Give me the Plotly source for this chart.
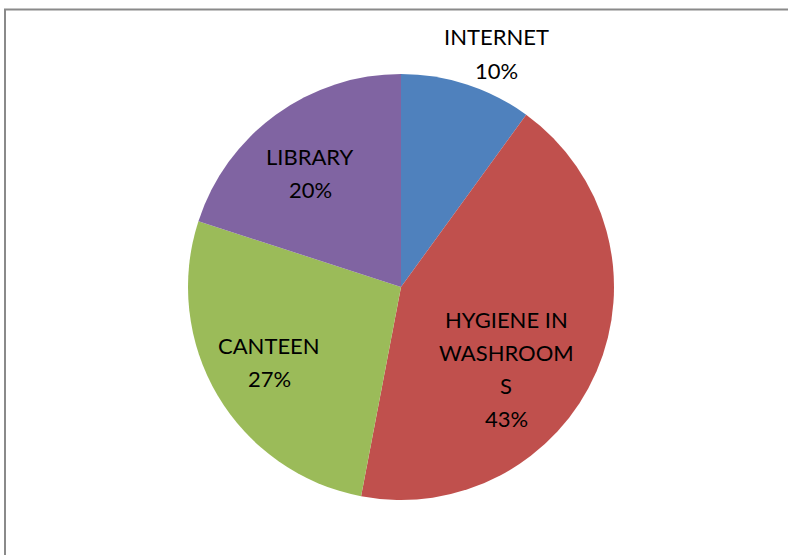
import plotly.graph_objects as go

categories = ["INTERNET", "HYGIENE IN WASHROOMS", "CANTEEN", "LIBRARY"]
values = [10, 43, 27, 20]
label_lines = [["INTERNET"], ["HYGIENE IN", "WASHROOM", "S"], ["CANTEEN"], ["LIBRARY"]]
colors = ["#4F81BD", "#C0504D", "#9BBB59", "#8064A2"]

W, H = 788, 555
# label anchor (centre of first line) in pixels
label_pos = [(496, 37), (506, 319), (269, 345), (310, 156)]
line_gap = 33

fig = go.Figure(go.Pie(
    labels=categories,
    values=values,
    sort=False,
    direction="clockwise",
    rotation=0,
    marker=dict(colors=colors, line=dict(width=0)),
    textinfo="none",
    hoverinfo="label+percent",
    domain=dict(x=[(401 - 213) / W, (401 + 213) / W], y=[1 - 500 / H, 1 - 74 / H]),
    showlegend=False,
))

annotations = []
total = sum(values)
for lines, v, (px, py) in zip(label_lines, values, label_pos):
    texts = lines + [f"{round(100 * v / total)}%"]
    for i, t in enumerate(texts):
        annotations.append(dict(
            x=px / W, y=1 - (py + i * line_gap) / H, xref="paper", yref="paper",
            text=t, showarrow=False, xanchor="center", yanchor="middle",
            font=dict(family="Lato", size=22, color="#000000"),
        ))

fig.update_layout(
    width=W, height=H,
    margin=dict(l=0, r=0, t=0, b=0),
    paper_bgcolor="white",
    plot_bgcolor="white",
    annotations=annotations,
    shapes=[dict(type="rect", xref="paper", yref="paper",
                 x0=5 / W, x1=1.05, y0=-0.05, y1=1 - 9.5 / H,
                 line=dict(color="#8A8A8A", width=2), fillcolor="rgba(0,0,0,0)")],
)

fig.write_html("out.html", config={"displayModeBar": False},
               post_script="document.body.style.margin='0';document.body.style.overflow='hidden';")
